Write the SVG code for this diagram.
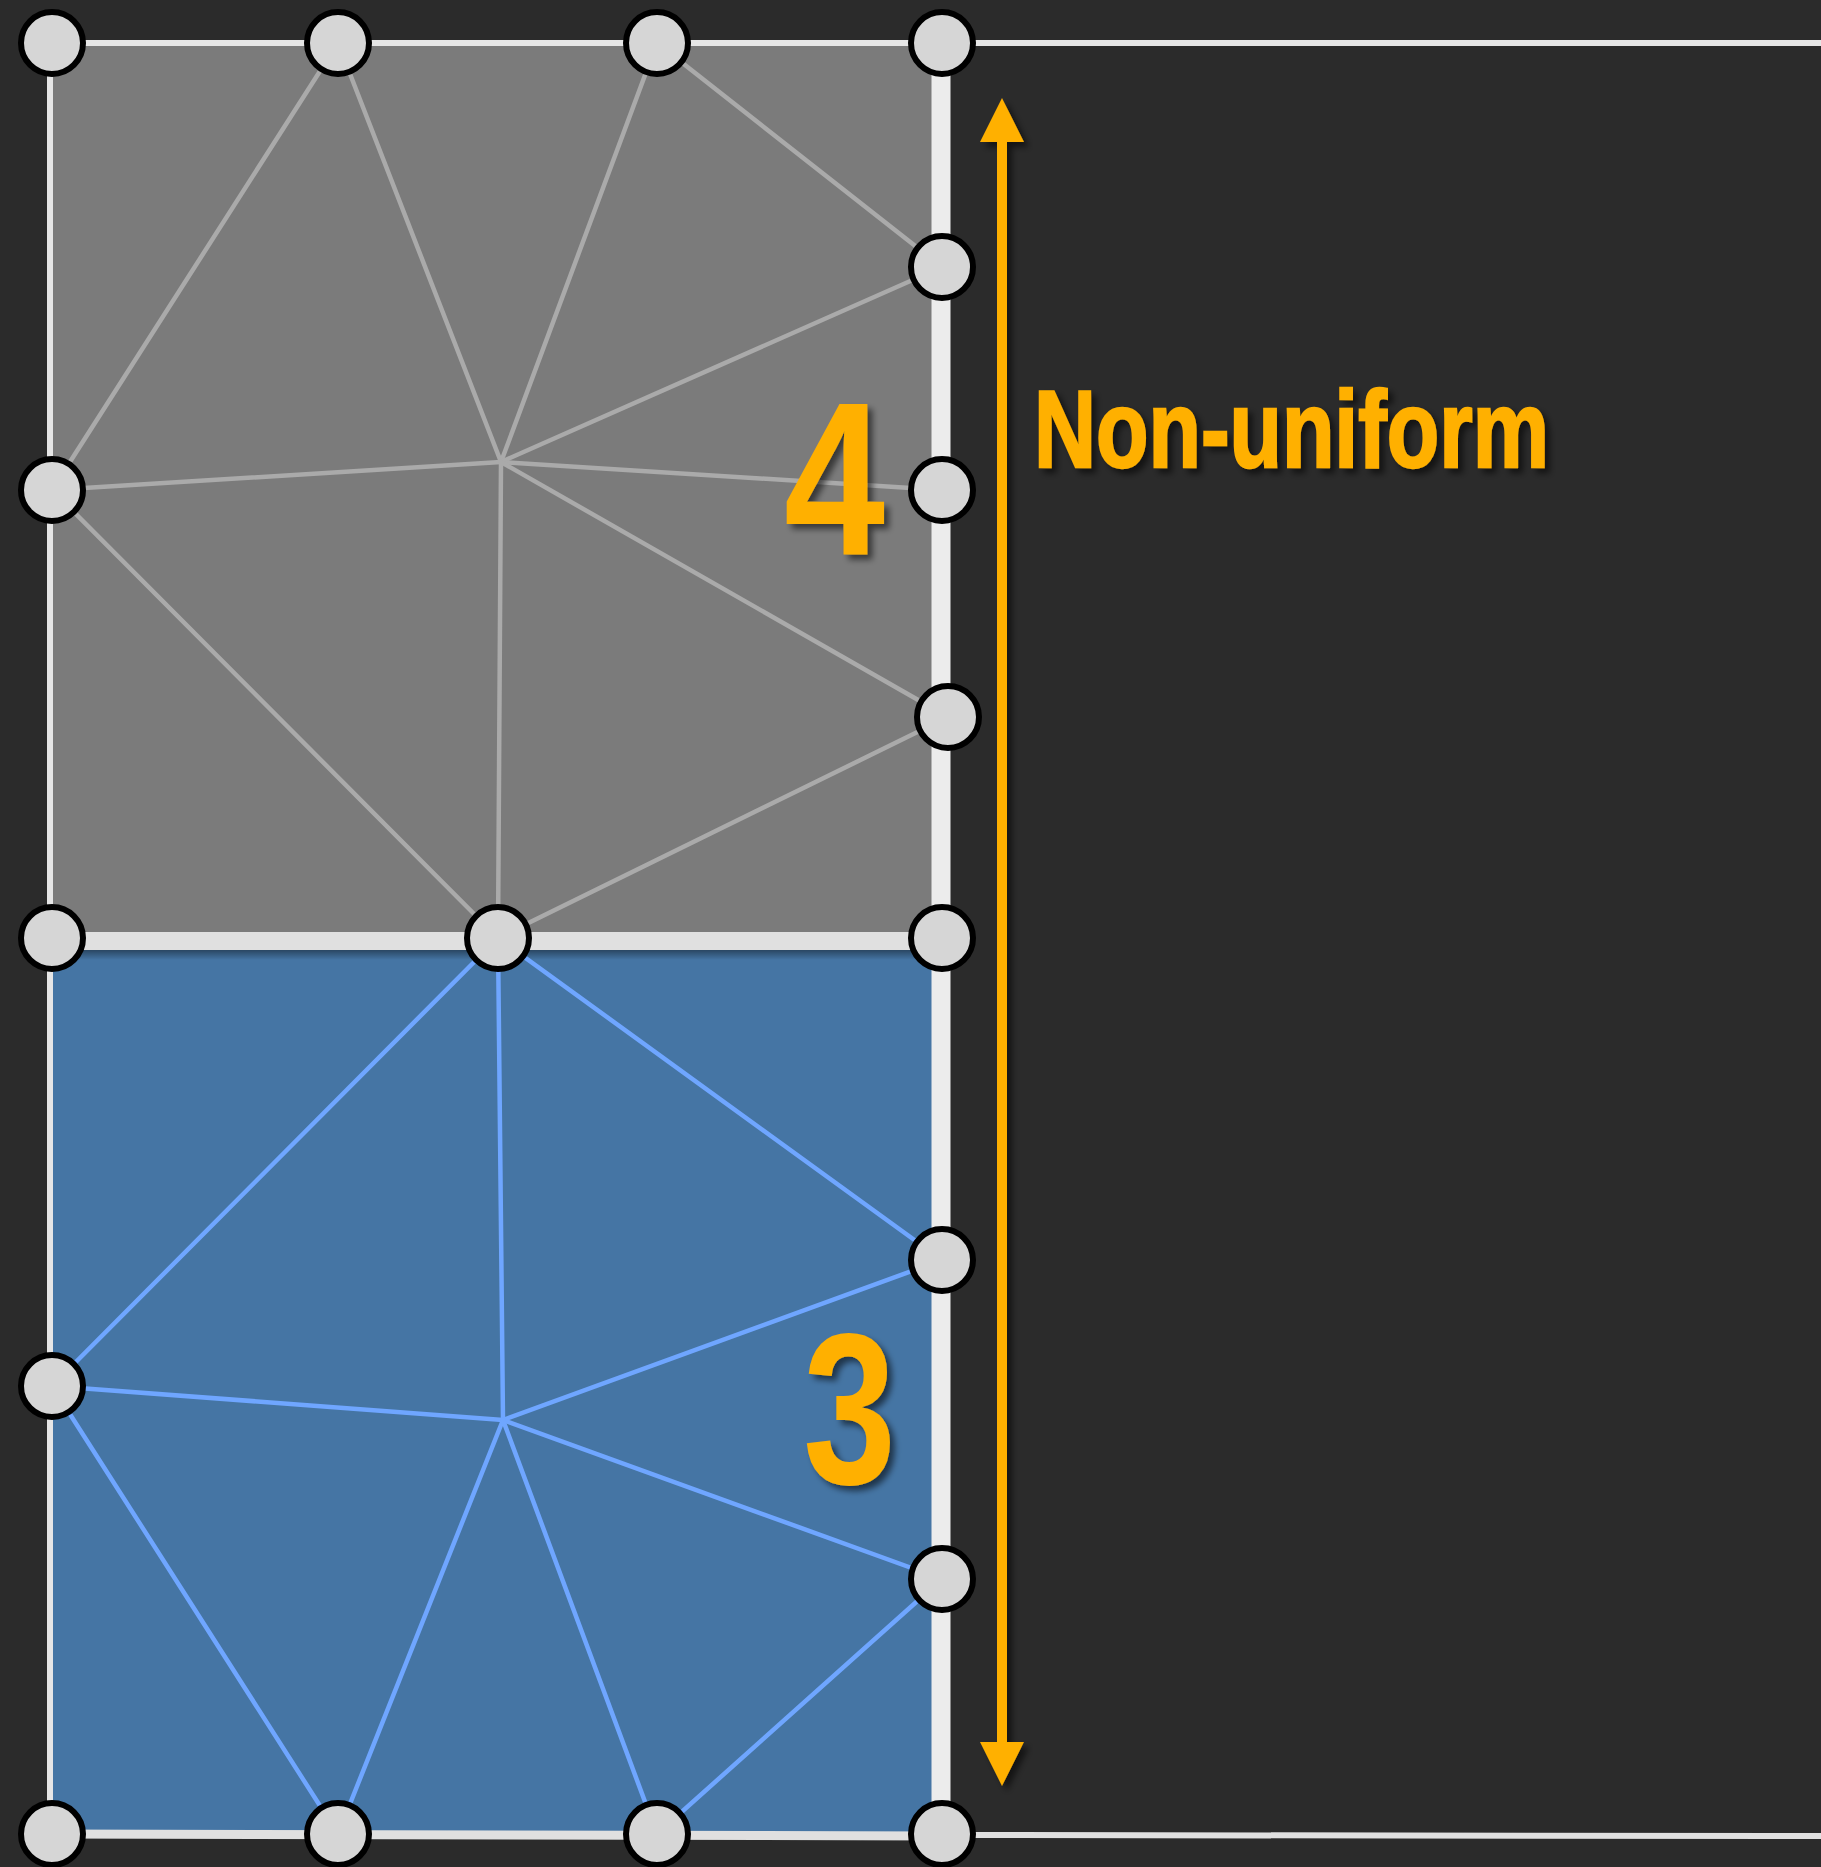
<svg xmlns="http://www.w3.org/2000/svg" width="1821" height="1867" viewBox="0 0 1821 1867">
<defs>
<style>
.ge{stroke:#aaaaaa;stroke-width:4.5;fill:none;stroke-linecap:round}
.be{stroke:#6fa6ff;stroke-width:4.5;fill:none;stroke-linecap:round}
.nd{fill:#d6d6d6;stroke:#000;stroke-width:6}
.lbl{font-family:"Liberation Sans Narrow","Liberation Sans",sans-serif;font-weight:bold;fill:#ffb000}
</style>
<filter id="sh" x="-20%" y="-20%" width="140%" height="140%">
<feDropShadow dx="5" dy="5" stdDeviation="3" flood-color="#000" flood-opacity="0.55"/>
</filter>
<linearGradient id="bandsh" x1="0" y1="0" x2="0" y2="1">
<stop offset="0" stop-color="#000" stop-opacity="0.4"/>
<stop offset="1" stop-color="#000" stop-opacity="0"/>
</linearGradient>
</defs>
<rect x="0" y="0" width="1821" height="1867" fill="#2b2b2b"/>
<g id="regions">
<rect x="50" y="43" width="891" height="898" fill="#7b7b7b"/>
<polygon points="50,941 941,941 941,1836 50,1834" fill="#4575a4"/>
<rect x="53" y="950" width="879" height="10" fill="url(#bandsh)"/>
</g>
<g id="connectors">
<line class="ge" x1="338" y1="43" x2="52" y2="490"/>
<line class="ge" x1="338" y1="43" x2="501" y2="462"/>
<line class="ge" x1="657" y1="43" x2="501" y2="462"/>
<line class="ge" x1="657" y1="43" x2="942" y2="267"/>
<line class="ge" x1="942" y1="267" x2="501" y2="462"/>
<line class="ge" x1="942" y1="490" x2="501" y2="462"/>
<line class="ge" x1="52" y1="490" x2="501" y2="462"/>
<line class="ge" x1="52" y1="490" x2="498" y2="938"/>
<line class="ge" x1="501" y1="462" x2="498" y2="938"/>
<line class="ge" x1="501" y1="462" x2="948" y2="717"/>
<line class="ge" x1="948" y1="717" x2="498" y2="938"/>
<line class="be" x1="498" y1="938" x2="52" y2="1386"/>
<line class="be" x1="498" y1="938" x2="503" y2="1420"/>
<line class="be" x1="498" y1="938" x2="942" y2="1260"/>
<line class="be" x1="52" y1="1386" x2="503" y2="1420"/>
<line class="be" x1="942" y1="1260" x2="503" y2="1420"/>
<line class="be" x1="503" y1="1420" x2="942" y2="1579"/>
<line class="be" x1="52" y1="1386" x2="338" y2="1834"/>
<line class="be" x1="503" y1="1420" x2="338" y2="1834"/>
<line class="be" x1="503" y1="1420" x2="657" y2="1834"/>
<line class="be" x1="657" y1="1834" x2="942" y2="1579"/>
</g>
<g id="borders">
<line x1="50" y1="43" x2="1821" y2="43" stroke="#e6e6e6" stroke-width="6"/>
<line x1="50" y1="43" x2="50" y2="1834" stroke="#e6e6e6" stroke-width="6"/>
<line x1="50" y1="941" x2="941" y2="941" stroke="#e0e0e0" stroke-width="18"/>
<line x1="941" y1="43" x2="941" y2="1836" stroke="#ececec" stroke-width="19"/>
<line x1="50" y1="1834" x2="941" y2="1836" stroke="#e0e0e0" stroke-width="9"/>
<line x1="941" y1="1835" x2="1821" y2="1836" stroke="#e0e0e0" stroke-width="6"/>
</g>
<g id="n-t1"><circle class="nd" cx="52" cy="43" r="31"/></g>
<g id="n-t2"><circle class="nd" cx="338" cy="43" r="31"/></g>
<g id="n-t3"><circle class="nd" cx="657" cy="43" r="31"/></g>
<g id="n-t4"><circle class="nd" cx="942" cy="43" r="31"/></g>
<g id="n-r1"><circle class="nd" cx="942" cy="267" r="31"/></g>
<g id="n-r2"><circle class="nd" cx="942" cy="490" r="31"/></g>
<g id="n-r3"><circle class="nd" cx="948" cy="717" r="31"/></g>
<g id="n-l1"><circle class="nd" cx="52" cy="490" r="31"/></g>
<g id="n-m1"><circle class="nd" cx="52" cy="938" r="31"/></g>
<g id="n-m2"><circle class="nd" cx="498" cy="938" r="31"/></g>
<g id="n-m3"><circle class="nd" cx="942" cy="938" r="31"/></g>
<g id="n-r4"><circle class="nd" cx="942" cy="1260" r="31"/></g>
<g id="n-r5"><circle class="nd" cx="942" cy="1579" r="31"/></g>
<g id="n-l2"><circle class="nd" cx="52" cy="1386" r="31"/></g>
<g id="n-b1"><circle class="nd" cx="52" cy="1834" r="31"/></g>
<g id="n-b2"><circle class="nd" cx="338" cy="1834" r="31"/></g>
<g id="n-b3"><circle class="nd" cx="657" cy="1834" r="31"/></g>
<g id="n-b4"><circle class="nd" cx="942" cy="1834" r="31"/></g>
<g id="arrow" filter="url(#sh)">
<rect x="997" y="140" width="10" height="1604" fill="#ffb000"/>
<polygon points="1002,98 1024,142 980,142" fill="#ffb000"/>
<polygon points="1002,1786 1024,1742 980,1742" fill="#ffb000"/>
</g>
<g id="labels" filter="url(#sh)">
<text class="lbl" x="1034" y="467" font-size="110" textLength="515" lengthAdjust="spacingAndGlyphs" stroke="#ffb000" stroke-width="2.5">Non-uniform</text>
<text class="lbl" x="784" y="555" font-size="219" textLength="101" lengthAdjust="spacingAndGlyphs">4</text>
<text class="lbl" x="803" y="1484" font-size="215" textLength="93" lengthAdjust="spacingAndGlyphs">3</text>
</g>
</svg>
